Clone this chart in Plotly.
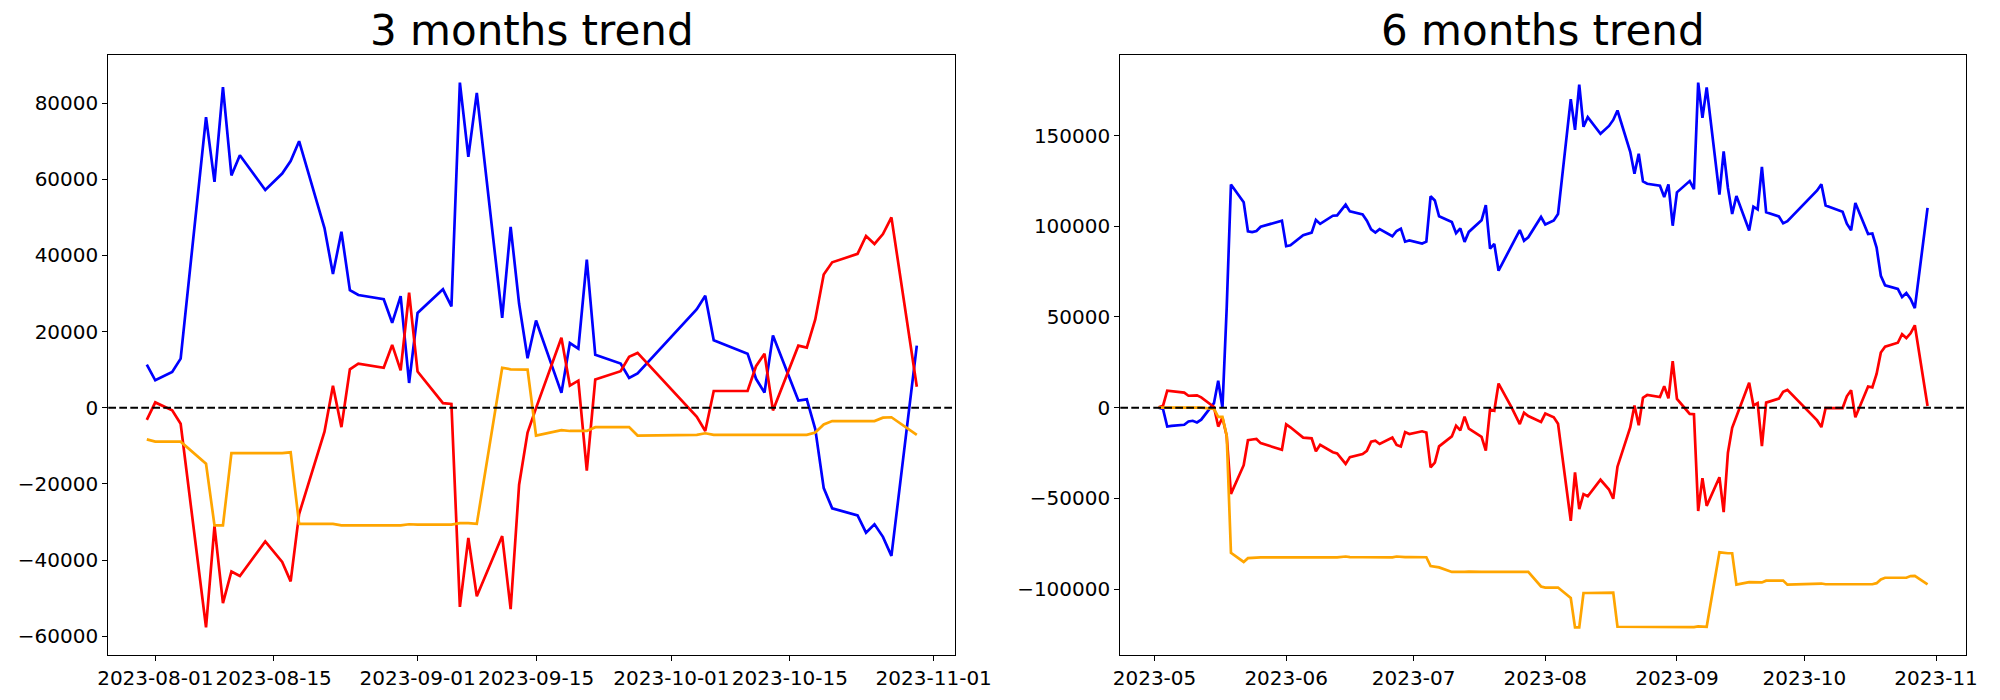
import plotly.graph_objects as go
import pandas as pd

# ---------------- 3 months data ----------------
dates3 = ["2023-07-31", "2023-08-01", "2023-08-03", "2023-08-04", "2023-08-07", "2023-08-08",
          "2023-08-09", "2023-08-10", "2023-08-11", "2023-08-14", "2023-08-16", "2023-08-17",
          "2023-08-18", "2023-08-21", "2023-08-22", "2023-08-23", "2023-08-24", "2023-08-25",
          "2023-08-28", "2023-08-29", "2023-08-30", "2023-08-31", "2023-09-01", "2023-09-04",
          "2023-09-05", "2023-09-06", "2023-09-07", "2023-09-08", "2023-09-11", "2023-09-12",
          "2023-09-13", "2023-09-14", "2023-09-15", "2023-09-18", "2023-09-19", "2023-09-20",
          "2023-09-21", "2023-09-22", "2023-09-25", "2023-09-26", "2023-09-27", "2023-10-04",
          "2023-10-05", "2023-10-06", "2023-10-10", "2023-10-11", "2023-10-12", "2023-10-13",
          "2023-10-16", "2023-10-17", "2023-10-18", "2023-10-19", "2023-10-20", "2023-10-23",
          "2023-10-24", "2023-10-25", "2023-10-26", "2023-10-27", "2023-10-30"]

blue3 = [11300, 7200, 9400, 12900, 76300, 59300, 84200, 61000, 66300, 57200, 61500, 64800,
         70000, 47200, 35100, 46200, 30900, 29600, 28500, 22300, 29300, 6500, 24900, 31100,
         26600, 85400, 65900, 82700, 23600, 47500, 27300, 13000, 22900, 3900, 17000, 15500,
         38900, 13900, 11600, 7800, 9000, 25900, 29400, 17700, 14200, 7600, 4000, 19000,
         1900, 2200, -5600, -21100, -26400, -28300, -32800, -30600, -33900, -38900, 16300]

red3 = [-3200, 1400, -700, -4200, -57700, -31100, -51300, -43000, -44200, -35100, -40500, -45600,
        -27900, -6300, 5800, -5100, 10100, 11600, 10500, 16500, 9800, 30200, 9500, 1200,
        1000, -52300, -34200, -49500, -33700, -52900, -20200, -6500, -100, 18400, 5800, 7100,
        -16500, 7400, 9600, 13400, 14400, -2400, -6100, 4400, 4400, 10900, 14200, -700,
        16300, 15800, 23200, 35000, 38200, 40400, 45100, 43000, 45600, 50000, 5500]

orange3 = [-8300, -8900, -8900, -8900, -14700, -30900, -30900, -11900, -11900, -11900, -11900, -11700,
           -30500, -30500, -30500, -30900, -30900, -30900, -30900, -30900, -30900, -30600, -30700, -30700,
           -30700, -30300, -30300, -30500, 10500, 10100, 10000, 10000, -7300, -5900, -6100, -6100,
           -6100, -5100, -5100, -5100, -7300, -7100, -6700, -7100, -7100, -7100, -7100, -7100,
           -7100, -7100, -6500, -4400, -3500, -3500, -3500, -3500, -2600, -2500, -7100]

# ---------------- 6 months data ----------------
dates6_early = ["2023-05-02", "2023-05-03", "2023-05-04", "2023-05-05",
                "2023-05-08", "2023-05-09", "2023-05-10", "2023-05-11", "2023-05-12",
                "2023-05-15", "2023-05-16", "2023-05-17", "2023-05-18", "2023-05-19",
                "2023-05-22", "2023-05-23", "2023-05-24", "2023-05-25", "2023-05-26",
                "2023-05-31", "2023-06-01", "2023-06-02",
                "2023-06-05", "2023-06-07", "2023-06-08", "2023-06-09",
                "2023-06-12", "2023-06-13", "2023-06-15", "2023-06-16",
                "2023-06-19", "2023-06-20", "2023-06-21", "2023-06-22", "2023-06-23",
                "2023-06-26", "2023-06-27", "2023-06-28", "2023-06-29", "2023-06-30",
                "2023-07-03", "2023-07-04", "2023-07-05", "2023-07-06", "2023-07-07",
                "2023-07-10", "2023-07-11", "2023-07-12", "2023-07-13", "2023-07-14",
                "2023-07-17", "2023-07-18", "2023-07-19", "2023-07-20", "2023-07-21",
                "2023-07-24", "2023-07-26", "2023-07-27", "2023-07-28"]
dates6 = dates6_early + dates3

blue6_early = [0, -700, -10400, -10000, -9400, -7600, -7200, -8100, -6600,
               2500, 14900, 0, 55000, 123000, 113200, 97200, 96800, 97400, 99700,
               103100, 89000, 89500, 95100, 96500, 103500, 101300,
               105800, 106000, 111900, 108200, 106500, 103100, 98300, 96500, 98400,
               94500, 97400, 98700, 91500, 92200, 90500, 91500, 116500, 114200, 105500,
               102300, 96200, 98800, 91400, 96900, 103300, 111600, 87700, 90300, 75500,
               89200, 97900, 92000, 93900]
blue6_late = [105100, 101000, 103200, 106700, 170100, 153100, 178000, 154800, 160100, 151000,
              155300, 158600, 163800, 141000, 128900, 140000, 124700, 123400, 122300, 116100,
              123100, 100300, 118700, 124900, 120400, 179200, 159700, 176500, 117400, 141300,
              121100, 106800, 116700, 97700, 110800, 109300, 132700, 107700, 105400, 101600,
              102800, 119700, 123200, 111500, 108000, 101400, 97800, 112800, 95700, 96000,
              88200, 72700, 67400, 65500, 61000, 63200, 59900, 54900, 110100]
blue6 = blue6_early + blue6_late

red6_early = [200, 1000, 9400, 9200, 8300, 6600, 6500, 6800, 5700,
              400, -10400, -5500, -15500, -47500, -31700, -17900, -17500, -17200, -19500,
              -23200, -9200, -10800, -16500, -16900, -24000, -20400,
              -24500, -25200, -31000, -27200, -25500, -23800, -18700, -18200, -20000,
              -16400, -20500, -21400, -13400, -14500, -13000, -13700, -32900, -30200, -21300,
              -15800, -9900, -12500, -4900, -11500, -16000, -23700, -900, -1700, 13300,
              500, -9000, -2800, -4600]
red6_late = [-7800, -3200, -5300, -8800, -62300, -35700, -55900, -47600, -48800, -39700,
             -45100, -50200, -32500, -10900, 1200, -9700, 5500, 7000, 5900, 11900,
             5200, 25600, 4900, -3400, -3600, -56900, -38800, -54100, -38300, -57500,
             -24800, -11100, -4700, 13800, 1200, 2500, -21100, 2800, 5000, 8800,
             9800, -7000, -10700, -200, -200, 6300, 9600, -5300, 11700, 11200,
             18600, 30400, 33600, 35800, 40500, 38400, 41000, 45400, 900]
red6 = red6_early + red6_late

orange6_early = [0, 0, 100, 100, 100, 100, 100, 100, 0,
                 -600, -5000, -5000, -15400, -80000, -85000, -82900, -82600, -82600, -82500,
                 -82400, -82600, -82500, -82500, -82500, -82500, -82500,
                 -82500, -82500, -82000, -82300, -82400, -82400, -82500, -82500, -82500,
                 -82500, -82000, -82300, -82300, -82300, -82300, -82400, -87300, -87800, -88000,
                 -90500, -90300, -90500, -90500, -90300, -90500, -90500, -90400, -90400, -90200,
                 -90200, -90300, -90400, -90500]
orange6_late = [-98500, -99100, -99100, -99100, -104900, -121100, -121100, -102100, -102100, -102100,
                -102100, -101900, -120700, -120700, -120700, -121100, -121100, -121100, -121100, -121100,
                -121100, -120800, -120900, -120900, -120900, -120500, -120500, -120700, -79700, -80100,
                -80200, -80200, -97500, -96100, -96300, -96300, -96300, -95300, -95300, -95300,
                -97500, -97300, -96900, -97300, -97300, -97300, -97300, -97300, -97300, -97300,
                -96700, -94600, -93700, -93700, -93700, -93700, -92800, -92700, -97300]
orange6 = orange6_early + orange6_late

# ---------------- ticks / titles ----------------
titles = ["3 months trend", "6 months trend"]
xtick3 = ["2023-08-01", "2023-08-15", "2023-09-01", "2023-09-15", "2023-10-01", "2023-10-15", "2023-11-01"]
xtick6_vals = ["2023-05-01", "2023-06-01", "2023-07-01", "2023-08-01", "2023-09-01", "2023-10-01", "2023-11-01"]
xtick6_text = ["2023-05", "2023-06", "2023-07", "2023-08", "2023-09", "2023-10", "2023-11"]
ytick3 = [-60000, -40000, -20000, 0, 20000, 40000, 60000, 80000]
ytick6 = [-100000, -50000, 0, 50000, 100000, 150000]

colors = ["blue", "red", "orange"]
FONT = "DejaVu Sans"


def yrange(*series):
    vals = [v for s in series for v in s]
    lo, hi = min(vals), max(vals)
    m = (hi - lo) * 0.05
    return [lo - m, hi + m]


def xrange(dates):
    d = pd.to_datetime(dates)
    lo, hi = d.min(), d.max()
    m = (hi - lo) * 0.05
    return [(lo - m).strftime("%Y-%m-%d %H:%M:%S"), (hi + m).strftime("%Y-%m-%d %H:%M:%S")]


fig = go.Figure()
for ys, c in zip([blue3, red3, orange3], colors):
    fig.add_trace(go.Scatter(x=dates3, y=ys, mode="lines", line=dict(color=c, width=2.7),
                             xaxis="x", yaxis="y", showlegend=False, hoverinfo="skip"))
for ys, c in zip([blue6, red6, orange6], colors):
    fig.add_trace(go.Scatter(x=dates6, y=ys, mode="lines", line=dict(color=c, width=2.7),
                             xaxis="x2", yaxis="y2", showlegend=False, hoverinfo="skip"))

W, H = 2000, 700
ytop, ybot = 55.3, 654.7
dom_y = [1 - ybot / H, 1 - ytop / H]
dom_x1 = [108.3 / W, 955.3 / W]
dom_x2 = [1120.3 / W, 1966.0 / W]

axis_common = dict(showgrid=False, zeroline=False, showline=True, mirror=True,
                   linecolor="black", linewidth=1.1, ticks="outside", ticklen=5,
                   tickwidth=1.1, tickcolor="black", automargin=False, tickangle=0,
                   tickfont=dict(family=FONT, size=20, color="black"))

fig.update_layout(
    width=W, height=H,
    margin=dict(l=0, r=0, t=0, b=0, autoexpand=False),
    paper_bgcolor="white", plot_bgcolor="white",
    font=dict(family=FONT, color="black"),
    xaxis=dict(domain=dom_x1, anchor="y", type="date", range=xrange(dates3),
               tickvals=xtick3, ticktext=xtick3, **axis_common),
    yaxis=dict(domain=dom_y, anchor="x", range=yrange(blue3, red3, orange3),
               tickvals=ytick3, tickformat="d", **axis_common),
    xaxis2=dict(domain=dom_x2, anchor="y2", type="date", range=xrange(dates6),
                tickvals=xtick6_vals, ticktext=xtick6_text, **axis_common),
    yaxis2=dict(domain=dom_y, anchor="x2", range=yrange(blue6, red6, orange6),
                tickvals=ytick6, tickformat="d", **axis_common),
    shapes=[
        dict(type="line", xref="x domain", x0=0, x1=1, yref="y", y0=0, y1=0, layer="above",
             line=dict(color="black", width=2, dash="7.7px,3.3px")),
        dict(type="line", xref="x2 domain", x0=0, x1=1, yref="y2", y0=0, y1=0, layer="above",
             line=dict(color="black", width=2, dash="7.7px,3.3px")),
    ],
    annotations=[
        dict(text=titles[0], xref="paper", yref="paper", x=sum(dom_x1) / 2, y=1 - 31 / H,
             xanchor="center", yanchor="middle", showarrow=False,
             font=dict(family=FONT, size=42, color="black")),
        dict(text=titles[1], xref="paper", yref="paper", x=sum(dom_x2) / 2, y=1 - 31 / H,
             xanchor="center", yanchor="middle", showarrow=False,
             font=dict(family=FONT, size=42, color="black")),
    ],
)

fig.write_html("out.html",
               config={"displayModeBar": False},
               post_script="document.body.style.margin='0px';document.body.style.overflow='hidden';")
